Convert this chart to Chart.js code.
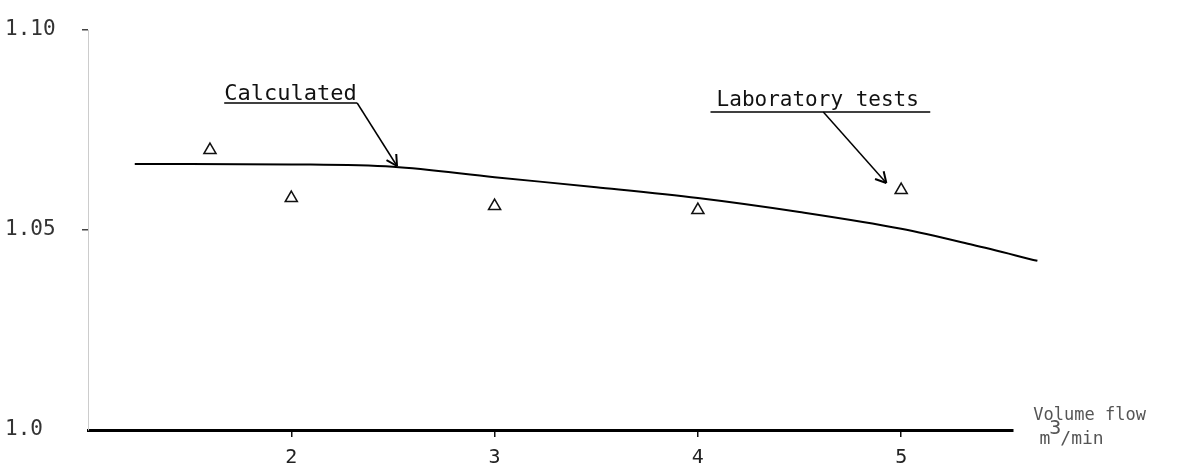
<!DOCTYPE html>
<html lang="en">
<head>
<meta charset="UTF-8">
<title>Volume flow</title>
<script src="https://cdn.jsdelivr.net/npm/chart.js@4.4.0/dist/chart.umd.min.js"></script>
<style>
html,body{margin:0;padding:0;background:#fff;}
#wrap{width:1187px;height:468px;}
</style>
</head>
<body>
<div id="wrap"><canvas id="chart" width="1187" height="468"></canvas></div>
<script>
// calculated curve (volume flow m3/min -> ratio)
const calcFlow  = [1.23, 1.5, 2, 2.5, 3, 3.5, 4, 4.5, 5, 5.35, 5.67];
const calcRatio = [1.0665, 1.0665, 1.0664, 1.0658, 1.0632, 1.0607, 1.0580, 1.0545, 1.0503, 1.0463, 1.0423];
// laboratory tests (triangles)
const labFlow  = [1.6, 2, 3, 4, 5];
const labRatio = [1.070, 1.058, 1.056, 1.055, 1.060];

const xTicks = [2, 3, 4, 5];
const yTicks = [1.0, 1.05, 1.10];
const yTickLabels = ["1.0", "1.05", "1.10"];

const mono = "'DejaVu Sans Mono', 'Liberation Mono', monospace";

// text + arrows, placed in data units
const notes = {
    id: 'notes',
    afterDraw(chart) {
        const ctx = chart.ctx;
        const sx = chart.scales.x, sy = chart.scales.y;
        const P = (a, b) => [sx.getPixelForValue(a), sy.getPixelForValue(b)];

        function line(a, b, w) {
            ctx.beginPath();
            ctx.lineWidth = w;
            ctx.moveTo(a[0], a[1]);
            ctx.lineTo(b[0], b[1]);
            ctx.stroke();
        }
        function arrow(a, b) {
            line(a, b, 1.5);
            const ang = Math.atan2(b[1] - a[1], b[0] - a[0]);
            const L = 12;
            [0.5, -0.5].forEach(d => {
                line(b, [b[0] - L * Math.cos(ang + d), b[1] - L * Math.sin(ang + d)], 2);
            });
        }

        ctx.save();
        ctx.strokeStyle = '#000';
        ctx.fillStyle = '#111';
        ctx.textBaseline = 'alphabetic';
        ctx.textAlign = 'left';
        ctx.font = "22px " + mono;

        let p = P(1.67, 1.0825);
        ctx.fillText("Calculated", p[0], p[1]);
        line(P(1.67, 1.08175), P(2.324, 1.08175), 1.5);
        arrow(P(2.324, 1.08175), P(2.52, 1.066));

        ctx.font = "21px " + mono;
        p = P(4.092, 1.081);
        ctx.fillText("Laboratory tests", p[0], p[1]);
        line(P(4.062, 1.0795), P(5.143, 1.0795), 1.5);
        arrow(P(4.617, 1.0795), P(4.927, 1.06175));

        ctx.fillStyle = '#555';
        ctx.font = "17px " + mono;
        p = P(5.65, 1.0025);
        ctx.fillText("Volume flow", p[0], p[1]);
        p = P(5.68, 0.9965);
        ctx.font = "18px " + mono;
        ctx.fillText("m", p[0], p[1]);
        let w = ctx.measureText("m").width - 1;
        ctx.font = "20px " + mono;
        ctx.fillText("3", p[0] + w, p[1] - 10);
        w += ctx.measureText("3").width - 1;
        ctx.font = "18px " + mono;
        ctx.fillText("/min", p[0] + w, p[1]);
        ctx.restore();
    }
};

new Chart(document.getElementById("chart"), {
    type: "scatter",
    data: {
        datasets: [{
            label: "Calculated",
            type: "line",
            data: calcFlow.map((v, i) => ({x: v, y: calcRatio[i]})),
            borderColor: "#000",
            borderWidth: 2,
            pointRadius: 0,
            fill: false,
            clip: false,
            cubicInterpolationMode: "monotone"
        }, {
            label: "Laboratory tests",
            data: labFlow.map((v, i) => ({x: v, y: labRatio[i]})),
            pointStyle: "triangle",
            pointRadius: 7,
            borderColor: "#111",
            borderWidth: 1.5,
            backgroundColor: "rgba(0,0,0,0)"
        }]
    },
    options: {
        responsive: false,
        animation: false,
        devicePixelRatio: 1,
        layout: {padding: {top: 30, left: 5, right: 174, bottom: 0}},
        plugins: {legend: {display: false}, tooltip: {enabled: false}},
        scales: {
            x: {
                type: "linear", min: 1, max: 5.55,
                afterBuildTicks: s => { s.ticks = xTicks.map(v => ({value: v})); },
                afterFit: s => { s.height = 38; },
                grid: {drawOnChartArea: false, tickLength: 7, color: "#111", lineWidth: 1.5},
                border: {display: true, color: "#000", width: 3},
                ticks: {font: {family: mono, size: 20}, color: "#222", padding: 9}
            },
            y: {
                type: "linear", min: 1.0, max: 1.10,
                afterBuildTicks: s => { s.ticks = yTicks.map(v => ({value: v})); },
                afterFit: s => { s.width = 83; },
                grid: {
                    drawOnChartArea: false, tickLength: 6, lineWidth: 1.5,
                    color: c => (c.tick && c.tick.value === 1.0) ? "rgba(0,0,0,0)" : "#444"
                },
                border: {display: true, color: "#ccc", width: 1, dash: [2, 16]},
                ticks: {
                    font: {family: mono, size: 21}, color: "#333", crossAlign: "far",
                    callback: (v, i) => yTickLabels[i]
                }
            }
        }
    },
    plugins: [notes]
});
</script>
</body>
</html>
